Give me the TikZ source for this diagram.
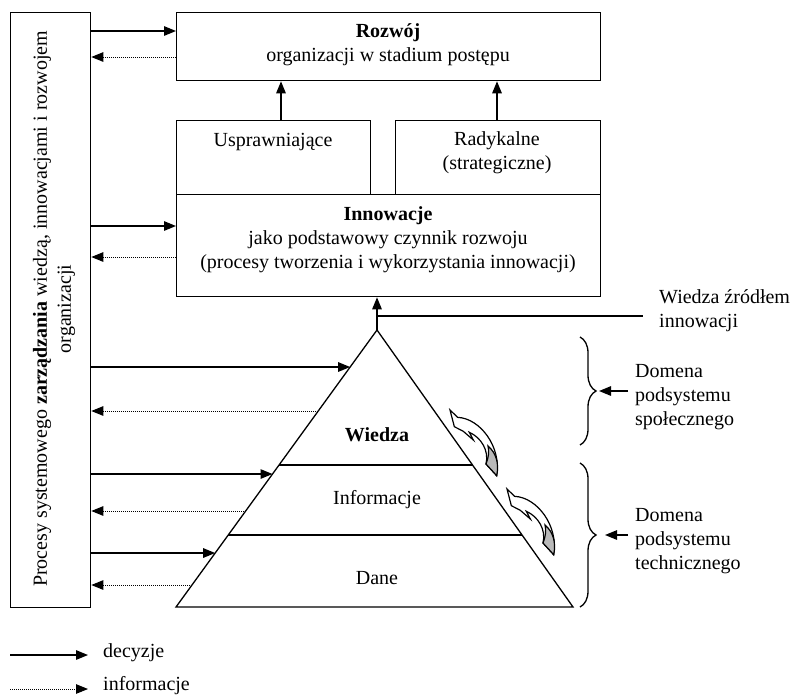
\documentclass[tikz,border=0pt]{standalone}
\usepackage{fontspec}
\setmainfont{Liberation Serif}
\usetikzlibrary{arrows.meta,decorations.pathreplacing,calc}
\begin{document}
\begin{tikzpicture}[x=1pt,y=-1pt,
  font=\fontsize{20}{24}\selectfont,
  box/.style={draw, line width=1.3pt, inner sep=0pt, anchor=north west},
  dec/.style={line width=1.3pt, -{Triangle[length=12pt,width=9.5pt]}},
  inf/.style={line width=1pt, dash pattern=on 1pt off 1pt, -{Triangle[length=12pt,width=9.5pt]}},
  lbl/.style={align=center, inner sep=0pt},
  lbll/.style={align=left, inner sep=0pt, anchor=west},
  curl/.pic={
    \begin{scope}[scale=1/3]
      \filldraw[fill=white, line width=1.2pt, line join=miter] (0,0) -- (23,22)
        .. controls (90,25) and (155,110) .. (140,197) -- (108,162)
        .. controls (118,122) and (93,82) .. (58,67) -- (70,90) -- (40,64) -- (13,50) -- cycle;
      \filldraw[fill=gray!55, line width=1.2pt] (140,197) -- (108,162)
        .. controls (116,140) and (118,125) .. (114,108)
        .. controls (138,128) and (148,160) .. (140,197) -- cycle;
    \end{scope}
  }
]
\useasboundingbox (0,0) rectangle (794,697);

% boxes
\node[box, minimum width=80pt, minimum height=595pt] (mgmt) at (10,12) {};
\node[box, minimum width=424pt, minimum height=68pt] (roz) at (176,12) {};
\node[box, minimum width=194pt, minimum height=74pt] (usp) at (176,120) {};
\node[box, minimum width=205pt, minimum height=74pt] (rad) at (395,120) {};
\node[box, minimum width=424pt, minimum height=102pt] (inn) at (176,194) {};

% texts in boxes
\node[lbl, rotate=90] (mgmtt) at (54,309) {Procesy systemowego \textbf{zarządzania} wiedzą, innowacjami i rozwojem\\organizacji};
\node[lbl] (rozt) at (388,45) {\textbf{Rozwój}\\organizacji w stadium postępu};
\node[lbl] (uspt) at (273,142) {Usprawniające};
\node[lbl] (radt) at (497,153) {Radykalne\\(strategiczne)};
\node[lbl] (innt) at (388,240) {\textbf{Innowacje}\\jako podstawowy czynnik rozwoju\\(procesy tworzenia i wykorzystania innowacji)};

% arrows up
\coordinate (ua) at (281,120);
\coordinate (ra) at (497,120);
\draw[dec] (ua) -- (roz.south -| ua);
\draw[dec] (ra) -- (roz.south -| ra);

% pyramid
\coordinate (apex) at (377,330);
\coordinate (bl) at (176,607);
\coordinate (br) at (573,607);
\draw[line width=1.3pt, line join=miter] (apex) -- (bl) -- (br) -- cycle;
\coordinate (l1a) at ($(apex)!0.4874!(bl)$);
\coordinate (l1b) at ($(apex)!0.4874!(br)$);
\coordinate (l2a) at ($(apex)!0.7401!(bl)$);
\coordinate (l2b) at ($(apex)!0.7401!(br)$);
\draw[line width=1.3pt] (l1a) -- (l1b);
\draw[line width=1.3pt] (l2a) -- (l2b);
\node[lbl] (wiedza) at (377,435) {\textbf{Wiedza}};
\node[lbl] (info) at (377,500) {Informacje};
\node[lbl] (dane) at (377,578) {Dane};

% apex arrow and source line
\draw[dec] (apex) -- (inn.south -| apex);
\coordinate (wz) at (377,316);
\coordinate (wzend) at (643,316);
\draw[line width=1.3pt] (wz) -- (wzend);
\node[lbll] (wzt) at (659,311) {Wiedza źródłem\\innowacji};

% left arrows
\coordinate (y1) at (0,31);
\coordinate (y2) at (0,57);
\coordinate (y3) at (0,226);
\coordinate (y4) at (0,257);
\draw[dec] (mgmt.east |- y1) -- (roz.west |- y1);
\draw[inf] (roz.west |- y2) -- (mgmt.east |- y2);
\draw[dec] (mgmt.east |- y3) -- (inn.west |- y3);
\draw[inf] (inn.west |- y4) -- (mgmt.east |- y4);

\coordinate (p1) at ($(apex)!0.1336!(bl)$);
\coordinate (p2) at ($(apex)!0.2924!(bl)$);
\coordinate (p3) at ($(apex)!0.5199!(bl)$);
\coordinate (p4) at ($(apex)!0.6534!(bl)$);
\coordinate (p5) at ($(apex)!0.8051!(bl)$);
\coordinate (p6) at ($(apex)!0.9206!(bl)$);
\draw[dec] (mgmt.east |- p1) -- (p1);
\draw[inf] (p2) -- (mgmt.east |- p2);
\draw[dec] (mgmt.east |- p3) -- (p3);
\draw[inf] (p4) -- (mgmt.east |- p4);
\draw[dec] (mgmt.east |- p5) -- (p5);
\draw[inf] (p6) -- (mgmt.east |- p6);

% curled arrows
\pic at (450,410) {curl};
\pic at (507,489) {curl};

% braces
\coordinate (b1t) at (580,337);
\coordinate (b1b) at (580,445);
\coordinate (b2t) at (580,463);
\coordinate (b2b) at (580,607);
\draw[line width=1.3pt, decorate, decoration={brace, amplitude=16pt}] (b1t) -- (b1b);
\draw[line width=1.3pt, decorate, decoration={brace, amplitude=16pt}] (b2t) -- (b2b);
\coordinate (d1s) at (628,391);
\coordinate (d1e) at (599,391);
\coordinate (d2s) at (628,535);
\coordinate (d2e) at (605,535);
\draw[dec] (d1s) -- (d1e);
\draw[dec] (d2s) -- (d2e);
\node[lbll] (dom1) at (635,397) {Domena\\podsystemu\\społecznego};
\node[lbll] (dom2) at (635,541) {Domena\\podsystemu\\technicznego};

% legend
\coordinate (lg1a) at (10,655);
\coordinate (lg1b) at (88,655);
\coordinate (lg2a) at (10,689);
\coordinate (lg2b) at (88,689);
\draw[dec] (lg1a) -- (lg1b);
\draw[inf] (lg2a) -- (lg2b);
\node[lbll] (lgt1) at (103,653) {decyzje};
\node[lbll] (lgt2) at (103,686) {informacje};
\end{tikzpicture}
\end{document}
